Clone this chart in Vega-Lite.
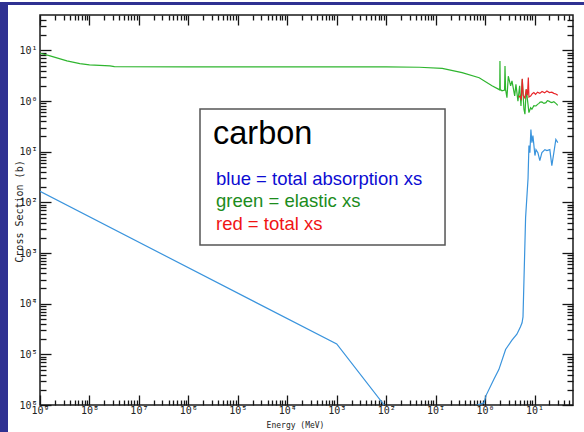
{
  "$schema": "https://vega.github.io/schema/vega-lite/v6.json",
  "background": "white",
  "padding": 0,
  "spacing": 0,
  "bounds": "flush",
  "config": {
    "view": {"stroke": null},
    "axis": {
      "domain": false,
      "grid": false,
      "zindex": 1,
      "ticks": true,
      "tickOpacity": 1,
      "tickColor": "#151515",
      "tickWidth": 1.3,
      "labelFont": "DejaVu Sans Mono",
      "labelFontSize": 10,
      "labelColor": "#222222",
      "labelFlush": false,
      "labelOverlap": false,
      "titleFont": "DejaVu Sans Mono",
      "titleFontWeight": "normal",
      "titleColor": "#222222"
    }
  },
  "vconcat": [
    {
      "width": 584,
      "height": 3,
      "view": {"fill": "#2f3192", "stroke": null},
      "data": {"values": [{}]},
      "mark": {"type": "point", "opacity": 0},
      "encoding": {}
    },
    {
      "spacing": 32,
      "bounds": "flush",
      "hconcat": [
        {
          "width": 8,
          "height": 429,
          "view": {"fill": "#2f3192", "stroke": null},
          "data": {"values": [{}]},
          "mark": {"type": "point", "opacity": 0},
          "encoding": {}
        },
        {
          "spacing": 9,
          "bounds": "flush",
          "vconcat": [
            {
              "width": 533,
              "height": 1,
              "data": {"values": [{}]},
              "mark": {"type": "point", "opacity": 0},
              "encoding": {}
            },
            {
              "width": 533,
              "height": 390,
              "view": {"stroke": "#1a1a1a", "strokeWidth": 1.5},
              "data": {
                "values": [
                  {"s": "elastic", "E": 1e-9, "xs": 8.8},
                  {"s": "elastic", "E": 1.6e-9, "xs": 7.8},
                  {"s": "elastic", "E": 3.5e-9, "xs": 6.2},
                  {"s": "elastic", "E": 6.4e-9, "xs": 5.5},
                  {"s": "elastic", "E": 1e-8, "xs": 5.2},
                  {"s": "elastic", "E": 2.6e-8, "xs": 4.95},
                  {"s": "elastic", "E": 3.2e-8, "xs": 4.78},
                  {"s": "elastic", "E": 1e-6, "xs": 4.75},
                  {"s": "elastic", "E": 1e-4, "xs": 4.74},
                  {"s": "elastic", "E": 0.01, "xs": 4.72},
                  {"s": "elastic", "E": 0.047, "xs": 4.65},
                  {"s": "elastic", "E": 0.136, "xs": 4.42},
                  {"s": "elastic", "E": 0.343, "xs": 3.63},
                  {"s": "elastic", "E": 0.76, "xs": 2.89},
                  {"s": "elastic", "E": 1.38, "xs": 2.0},
                  {"s": "elastic", "E": 1.9, "xs": 1.7},
                  {"s": "elastic", "E": 1.98, "xs": 1.66},
                  {"s": "elastic", "E": 2.0, "xs": 6.2},
                  {"s": "elastic", "E": 2.03, "xs": 1.7},
                  {"s": "elastic", "E": 2.2, "xs": 1.6},
                  {"s": "elastic", "E": 2.48, "xs": 1.65},
                  {"s": "elastic", "E": 2.53, "xs": 4.9},
                  {"s": "elastic", "E": 2.6, "xs": 1.7},
                  {"s": "elastic", "E": 2.77, "xs": 1.17},
                  {"s": "elastic", "E": 2.95, "xs": 3.1},
                  {"s": "elastic", "E": 3.29, "xs": 2.0},
                  {"s": "elastic", "E": 3.5, "xs": 2.5},
                  {"s": "elastic", "E": 3.97, "xs": 1.26},
                  {"s": "elastic", "E": 4.21, "xs": 2.14},
                  {"s": "elastic", "E": 4.62, "xs": 1.0},
                  {"s": "elastic", "E": 5.0, "xs": 2.0},
                  {"s": "elastic", "E": 5.32, "xs": 0.8},
                  {"s": "elastic", "E": 5.65, "xs": 2.7},
                  {"s": "elastic", "E": 6.11, "xs": 0.69},
                  {"s": "elastic", "E": 6.4, "xs": 0.55},
                  {"s": "elastic", "E": 6.8, "xs": 1.7},
                  {"s": "elastic", "E": 7.36, "xs": 0.88},
                  {"s": "elastic", "E": 7.71, "xs": 0.59},
                  {"s": "elastic", "E": 8.34, "xs": 0.74},
                  {"s": "elastic", "E": 8.85, "xs": 0.69},
                  {"s": "elastic", "E": 9.7, "xs": 0.81},
                  {"s": "elastic", "E": 10.7, "xs": 0.8},
                  {"s": "elastic", "E": 11.5, "xs": 0.86},
                  {"s": "elastic", "E": 12.3, "xs": 0.9},
                  {"s": "elastic", "E": 13.0, "xs": 0.95},
                  {"s": "elastic", "E": 14.1, "xs": 0.96},
                  {"s": "elastic", "E": 15.5, "xs": 0.9},
                  {"s": "elastic", "E": 17.0, "xs": 0.93},
                  {"s": "elastic", "E": 18.2, "xs": 1.02},
                  {"s": "elastic", "E": 19.5, "xs": 1.0},
                  {"s": "elastic", "E": 21.0, "xs": 0.95},
                  {"s": "elastic", "E": 22.4, "xs": 0.93},
                  {"s": "elastic", "E": 24.6, "xs": 0.97},
                  {"s": "elastic", "E": 27.0, "xs": 0.9},
                  {"s": "elastic", "E": 29.6, "xs": 0.82},
                  {"s": "total", "E": 4.8, "xs": 1.2},
                  {"s": "total", "E": 5.0, "xs": 1.25},
                  {"s": "total", "E": 5.4, "xs": 1.1},
                  {"s": "total", "E": 5.65, "xs": 2.75},
                  {"s": "total", "E": 5.9, "xs": 1.3},
                  {"s": "total", "E": 6.4, "xs": 1.15},
                  {"s": "total", "E": 6.8, "xs": 1.7},
                  {"s": "total", "E": 7.2, "xs": 1.3},
                  {"s": "total", "E": 7.5, "xs": 2.9},
                  {"s": "total", "E": 7.71, "xs": 1.2},
                  {"s": "total", "E": 8.34, "xs": 1.26},
                  {"s": "total", "E": 9.0, "xs": 1.4},
                  {"s": "total", "E": 9.7, "xs": 1.47},
                  {"s": "total", "E": 10.5, "xs": 1.36},
                  {"s": "total", "E": 11.5, "xs": 1.5},
                  {"s": "total", "E": 12.8, "xs": 1.42},
                  {"s": "total", "E": 14.2, "xs": 1.55},
                  {"s": "total", "E": 16.0, "xs": 1.45},
                  {"s": "total", "E": 17.8, "xs": 1.58},
                  {"s": "total", "E": 20.0, "xs": 1.47},
                  {"s": "total", "E": 22.4, "xs": 1.5},
                  {"s": "total", "E": 24.6, "xs": 1.42},
                  {"s": "total", "E": 27.0, "xs": 1.38},
                  {"s": "total", "E": 29.6, "xs": 1.3},
                  {"s": "absorption", "E": 1e-9, "xs": 0.0165},
                  {"s": "absorption", "E": 0.001, "xs": 1.6e-5},
                  {"s": "absorption", "E": 0.0091, "xs": 1e-6},
                  {"s": "absorption", "E": 0.02, "xs": 2.5e-7},
                  {"s": "absorption", "E": 0.35, "xs": 5e-7},
                  {"s": "absorption", "E": 0.43, "xs": 8.9e-7},
                  {"s": "absorption", "E": 0.7, "xs": 1.0e-6},
                  {"s": "absorption", "E": 0.95, "xs": 1.1e-6},
                  {"s": "absorption", "E": 1.05, "xs": 1.55e-6},
                  {"s": "absorption", "E": 1.5, "xs": 3.2e-6},
                  {"s": "absorption", "E": 1.9, "xs": 5.0e-6},
                  {"s": "absorption", "E": 2.6, "xs": 1.25e-5},
                  {"s": "absorption", "E": 3.5, "xs": 1.9e-5},
                  {"s": "absorption", "E": 4.4, "xs": 2.5e-5},
                  {"s": "absorption", "E": 5.2, "xs": 3.5e-5},
                  {"s": "absorption", "E": 5.6, "xs": 4.2e-5},
                  {"s": "absorption", "E": 5.85, "xs": 5.5e-5},
                  {"s": "absorption", "E": 6.6, "xs": 0.005},
                  {"s": "absorption", "E": 7.4, "xs": 0.03},
                  {"s": "absorption", "E": 7.71, "xs": 0.132},
                  {"s": "absorption", "E": 8.07, "xs": 0.096},
                  {"s": "absorption", "E": 8.45, "xs": 0.273},
                  {"s": "absorption", "E": 8.85, "xs": 0.151},
                  {"s": "absorption", "E": 9.28, "xs": 0.208},
                  {"s": "absorption", "E": 10.2, "xs": 0.084},
                  {"s": "absorption", "E": 10.7, "xs": 0.11},
                  {"s": "absorption", "E": 11.7, "xs": 0.096},
                  {"s": "absorption", "E": 12.8, "xs": 0.0667},
                  {"s": "absorption", "E": 14.1, "xs": 0.096},
                  {"s": "absorption", "E": 16.2, "xs": 0.11},
                  {"s": "absorption", "E": 17.8, "xs": 0.105},
                  {"s": "absorption", "E": 20.4, "xs": 0.11},
                  {"s": "absorption", "E": 22.4, "xs": 0.053},
                  {"s": "absorption", "E": 24.6, "xs": 0.096},
                  {"s": "absorption", "E": 27.0, "xs": 0.174},
                  {"s": "absorption", "E": 29.6, "xs": 0.151}
                ]
              },
              "layer": [
                {
                  "transform": [{"filter": "datum.s === 'elastic'"}],
                  "mark": {"type": "line", "color": "#2fb52f", "strokeWidth": 1.2, "clip": true},
                  "encoding": {
                    "x": {
                      "field": "E", "type": "quantitative",
                      "scale": {"type": "log", "domain": [1e-9, 60], "nice": false},
                      "axis": {
                        "orient": "bottom",
                        "offset": -10,
                        "ticks": true,
                        "values": [1e-9, 1e-8, 1e-7, 1e-6, 1e-5, 1e-4, 1e-3, 1e-2, 1e-1, 1, 10],
                        "tickSize": 10,
                        "labelPadding": 0,
                        "labelExpr": "['10\u0304\u2079','10\u0304\u2078','10\u0304\u2077','10\u0304\u2076','10\u0304\u2075','10\u0304\u2074','10\u0304\u00b3','10\u0304\u00b2','10\u0304\u00b9','10\u2070','10\u00b9'][round(log(datum.value)/LN10)+9]",
                        "title": "Energy (MeV)",
                        "titleFontSize": 8,
                        "titleX": 255,
                        "titleY": 32,
                        "titleBaseline": "alphabetic"
                      }
                    },
                    "y": {
                      "field": "xs", "type": "quantitative",
                      "scale": {"type": "log", "domain": [1e-6, 50], "nice": false},
                      "axis": {
                        "orient": "left",
                        "offset": -11,
                        "ticks": true,
                        "values": [1e-6, 1e-5, 1e-4, 1e-3, 1e-2, 1e-1, 1, 10],
                        "tickSize": 11,
                        "labelPadding": 3,
                        "labelExpr": "['10\u0304\u2076','10\u0304\u2075','10\u0304\u2074','10\u0304\u00b3','10\u0304\u00b2','10\u0304\u00b9','10\u2070','10\u00b9'][round(log(datum.value)/LN10)+6]",
                        "title": "Cross Section (b)",
                        "titleFontSize": 10,
                        "titleX": -32,
                        "titleY": 196,
                        "titleBaseline": "middle"
                      }
                    }
                  }
                },
                {
                  "transform": [{"filter": "datum.s === 'total'"}],
                  "mark": {"type": "line", "color": "#e8262a", "strokeWidth": 1.2, "clip": true},
                  "encoding": {
                    "x": {
                      "field": "E", "type": "quantitative",
                      "scale": {"type": "log", "domain": [1e-9, 60], "nice": false},
                      "axis": {
                        "orient": "bottom",
                        "offset": -5,
                        "ticks": true,
                        "values": [2e-9, 3e-9, 4e-9, 5e-9, 6e-9, 7e-9, 8e-9, 9e-9, 2e-8, 3e-8, 4e-8, 5e-8, 6e-8, 7e-8, 8e-8, 9e-8, 2e-7, 3e-7, 4e-7, 5e-7, 6e-7, 7e-7, 8e-7, 9e-7, 2e-6, 3e-6, 4e-6, 5e-6, 6e-6, 7e-6, 8e-6, 9e-6, 2e-5, 3e-5, 4e-5, 5e-5, 6e-5, 7e-5, 8e-5, 9e-5, 2e-4, 3e-4, 4e-4, 5e-4, 6e-4, 7e-4, 8e-4, 9e-4, 2e-3, 3e-3, 4e-3, 5e-3, 6e-3, 7e-3, 8e-3, 9e-3, 2e-2, 3e-2, 4e-2, 5e-2, 6e-2, 7e-2, 8e-2, 9e-2, 0.2, 0.3, 0.4, 0.5, 0.6, 0.7, 0.8, 0.9, 2, 3, 4, 5, 6, 7, 8, 9, 20, 30, 40, 50],
                        "tickSize": 5,
                        "labels": false,
                        "title": null
                      }
                    },
                    "y": {
                      "field": "xs", "type": "quantitative",
                      "scale": {"type": "log", "domain": [1e-6, 50], "nice": false},
                      "axis": {
                        "orient": "left",
                        "offset": -6,
                        "ticks": true,
                        "values": [2e-6, 3e-6, 4e-6, 5e-6, 6e-6, 7e-6, 8e-6, 9e-6, 2e-5, 3e-5, 4e-5, 5e-5, 6e-5, 7e-5, 8e-5, 9e-5, 2e-4, 3e-4, 4e-4, 5e-4, 6e-4, 7e-4, 8e-4, 9e-4, 2e-3, 3e-3, 4e-3, 5e-3, 6e-3, 7e-3, 8e-3, 9e-3, 2e-2, 3e-2, 4e-2, 5e-2, 6e-2, 7e-2, 8e-2, 9e-2, 0.2, 0.3, 0.4, 0.5, 0.6, 0.7, 0.8, 0.9, 2, 3, 4, 5, 6, 7, 8, 9, 20, 30, 40],
                        "tickSize": 6,
                        "labels": false,
                        "title": null
                      }
                    }
                  }
                },
                {
                  "transform": [{"filter": "datum.s === 'absorption'"}],
                  "mark": {"type": "line", "color": "#3a94dd", "strokeWidth": 1.2, "clip": true},
                  "encoding": {
                    "x": {
                      "field": "E", "type": "quantitative",
                      "scale": {"type": "log", "domain": [1e-9, 60], "nice": false},
                      "axis": {
                        "orient": "top",
                        "offset": -10,
                        "ticks": true,
                        "values": [1e-9, 1e-8, 1e-7, 1e-6, 1e-5, 1e-4, 1e-3, 1e-2, 1e-1, 1, 10],
                        "tickSize": 10,
                        "labels": false,
                        "title": null
                      }
                    },
                    "y": {
                      "field": "xs", "type": "quantitative",
                      "scale": {"type": "log", "domain": [1e-6, 50], "nice": false},
                      "axis": {
                        "orient": "right",
                        "offset": -11,
                        "ticks": true,
                        "values": [1e-6, 1e-5, 1e-4, 1e-3, 1e-2, 1e-1, 1, 10],
                        "tickSize": 11,
                        "labels": false,
                        "title": null
                      }
                    }
                  }
                },
                {
                  "data": {"values": [{"label": "carbon"}]},
                  "mark": {"type": "rect", "fill": "white", "stroke": "#555555", "strokeWidth": 1.5},
                  "encoding": {
                    "x": {
                      "datum": 1.72e-6, "type": "quantitative",
                      "scale": {"type": "log", "domain": [1e-9, 60], "nice": false},
                      "axis": {
                        "orient": "top",
                        "offset": -5,
                        "ticks": true,
                        "values": [2e-9, 3e-9, 4e-9, 5e-9, 6e-9, 7e-9, 8e-9, 9e-9, 2e-8, 3e-8, 4e-8, 5e-8, 6e-8, 7e-8, 8e-8, 9e-8, 2e-7, 3e-7, 4e-7, 5e-7, 6e-7, 7e-7, 8e-7, 9e-7, 2e-6, 3e-6, 4e-6, 5e-6, 6e-6, 7e-6, 8e-6, 9e-6, 2e-5, 3e-5, 4e-5, 5e-5, 6e-5, 7e-5, 8e-5, 9e-5, 2e-4, 3e-4, 4e-4, 5e-4, 6e-4, 7e-4, 8e-4, 9e-4, 2e-3, 3e-3, 4e-3, 5e-3, 6e-3, 7e-3, 8e-3, 9e-3, 2e-2, 3e-2, 4e-2, 5e-2, 6e-2, 7e-2, 8e-2, 9e-2, 0.2, 0.3, 0.4, 0.5, 0.6, 0.7, 0.8, 0.9, 2, 3, 4, 5, 6, 7, 8, 9, 20, 30, 40, 50],
                        "tickSize": 5,
                        "labels": false,
                        "title": null
                      }
                    },
                    "x2": {"datum": 0.155},
                    "y": {
                      "datum": 0.697, "type": "quantitative",
                      "scale": {"type": "log", "domain": [1e-6, 50], "nice": false},
                      "axis": {
                        "orient": "right",
                        "offset": -6,
                        "ticks": true,
                        "values": [2e-6, 3e-6, 4e-6, 5e-6, 6e-6, 7e-6, 8e-6, 9e-6, 2e-5, 3e-5, 4e-5, 5e-5, 6e-5, 7e-5, 8e-5, 9e-5, 2e-4, 3e-4, 4e-4, 5e-4, 6e-4, 7e-4, 8e-4, 9e-4, 2e-3, 3e-3, 4e-3, 5e-3, 6e-3, 7e-3, 8e-3, 9e-3, 2e-2, 3e-2, 4e-2, 5e-2, 6e-2, 7e-2, 8e-2, 9e-2, 0.2, 0.3, 0.4, 0.5, 0.6, 0.7, 0.8, 0.9, 2, 3, 4, 5, 6, 7, 8, 9, 20, 30, 40],
                        "tickSize": 6,
                        "labels": false,
                        "title": null
                      }
                    },
                    "y2": {"datum": 0.00144}
                  }
                },
                {
                  "data": {"values": [{"label": "carbon"}]},
                  "mark": {"type": "text", "font": "Liberation Sans", "fontSize": 32.5, "color": "#000000", "align": "left", "baseline": "alphabetic"},
                  "encoding": {
                    "x": {"datum": 3.15e-6, "type": "quantitative", "axis": null},
                    "y": {"datum": 0.144, "type": "quantitative", "axis": null},
                    "text": {"field": "label"}
                  }
                },
                {
                  "data": {"values": [{"label": "blue = total absorption xs"}]},
                  "mark": {"type": "text", "font": "Liberation Sans", "fontSize": 18.5, "color": "#0c0cd2", "align": "left", "baseline": "alphabetic"},
                  "encoding": {
                    "x": {"datum": 3.62e-6, "type": "quantitative", "axis": null},
                    "y": {"datum": 0.0217, "type": "quantitative", "axis": null},
                    "text": {"field": "label"}
                  }
                },
                {
                  "data": {"values": [{"label": "green = elastic xs"}]},
                  "mark": {"type": "text", "font": "Liberation Sans", "fontSize": 18.5, "color": "#1c8c1c", "align": "left", "baseline": "alphabetic"},
                  "encoding": {
                    "x": {"datum": 3.62e-6, "type": "quantitative", "axis": null},
                    "y": {"datum": 0.0081, "type": "quantitative", "axis": null},
                    "text": {"field": "label"}
                  }
                },
                {
                  "data": {"values": [{"label": "red = total xs"}]},
                  "mark": {"type": "text", "font": "Liberation Sans", "fontSize": 18.5, "color": "#f01414", "align": "left", "baseline": "alphabetic"},
                  "encoding": {
                    "x": {"datum": 3.62e-6, "type": "quantitative", "axis": null},
                    "y": {"datum": 0.00281, "type": "quantitative", "axis": null},
                    "text": {"field": "label"}
                  }
                }
              ],
              "resolve": {"axis": {"x": "independent", "y": "independent"}}
            }
          ]
        }
      ]
    }
  ]
}
